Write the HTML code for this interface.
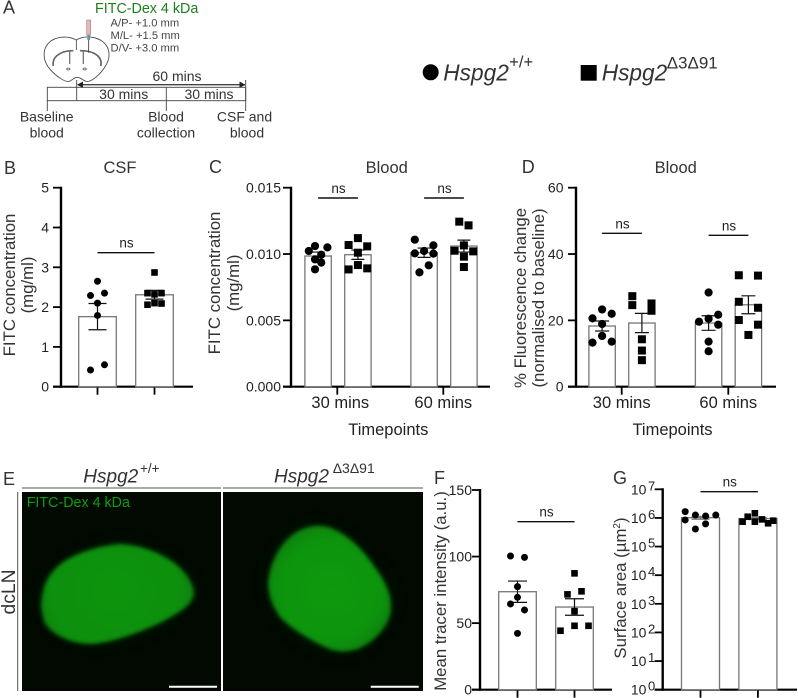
<!DOCTYPE html>
<html lang="en">
<head>
<meta charset="utf-8">
<title>FITC-Dex tracer figure</title>
<style>
html,body{margin:0;padding:0;background:#fff;}
svg{display:block;font-family:"Liberation Sans",Arial,sans-serif;}
</style>
</head>
<body>
<svg id="figure" xmlns="http://www.w3.org/2000/svg" width="798" height="698" viewBox="0 0 798 698">
  <defs>
    <filter id="soft" x="-20%" y="-20%" width="140%" height="140%"><feGaussianBlur stdDeviation="2.2"/></filter>
    <filter id="halo" x="-30%" y="-30%" width="160%" height="160%"><feGaussianBlur stdDeviation="9"/></filter>
    <radialGradient id="greenL" gradientUnits="userSpaceOnUse" cx="115" cy="590" r="85">
      <stop offset="0" stop-color="#0a940c"/><stop offset="0.75" stop-color="#0a900c"/><stop offset="1" stop-color="#0a7c0c"/>
    </radialGradient>
    <radialGradient id="greenR" gradientUnits="userSpaceOnUse" cx="330" cy="590" r="72">
      <stop offset="0" stop-color="#0a9a0c"/><stop offset="0.7" stop-color="#0a940c"/><stop offset="1" stop-color="#0a7c0c"/>
    </radialGradient>
  </defs>
  <rect x="0" y="0" width="798" height="698" fill="#fff"/>

  <g fill="#333" font-size="14">
    <text x="3" y="13.5" font-size="18">A</text>
    <text x="95" y="13" font-size="14.3" fill="#1c7f1c">FITC-Dex 4 kDa</text>
    <text x="110.5" y="26.5" font-size="11.2" fill="#444">A/P- +1.0 mm</text>
    <text x="110.5" y="39" font-size="11.2" fill="#444">M/L- +1.5 mm</text>
    <text x="110.5" y="51.5" font-size="11.2" fill="#444">D/V- +3.0 mm</text>
    <g transform="scale(0.33333)" fill="none" stroke="#444">
      <path stroke-width="2.5" fill="#fff" d="M229 120C205 106 165 108 145 130C125 152 130 185 150 208C168 228 195 248 208 244C218 240 222 232 232 232C242 232 246 240 258 244C272 248 298 226 314 202C332 176 332 148 312 128C290 108 252 106 229 120Z"/>
      <path stroke="#666" stroke-width="5" d="M160 198C155 175 175 152 220 152"/>
      <path stroke="#666" stroke-width="5" d="M302 198C308 175 290 152 240 152"/>
      <path stroke="#777" stroke-width="4" d="M209 152L209 192"/>
      <path stroke="#777" stroke-width="4" d="M250 152L250 192"/>
      <ellipse cx="205" cy="207" rx="5" ry="3" stroke-width="2"/>
      <ellipse cx="254" cy="207" rx="5" ry="3" stroke-width="2"/>
      <path stroke-width="2.5" d="M229 120L229 150"/>
    </g>
    <g transform="scale(0.33333)">
      <rect x="260" y="60" width="12" height="45" fill="#efb4b0" stroke="#777" stroke-width="1.5"/>
      <rect x="262" y="105" width="8" height="15" fill="#5a9ab0"/>
      <path d="M266 120L266 158" stroke="#333" stroke-width="2.5"/>
    </g>
    <g fill="none" stroke="#444" stroke-width="0.9">
      <rect x="47.3" y="87.3" width="198.4" height="13.4"/>
      <path d="M76.7 80V100.7M166.3 87.3V111M47.3 100.7V111M245.7 80V111"/>
      <path d="M78 84.7H245" stroke-width="1.4"/>
      <path d="M77 84.7L83 81.5V87.9Z" fill="#222" stroke="none"/>
      <path d="M245.4 84.7L239.5 81.5V87.9Z" fill="#222" stroke="none"/>
    </g>
    <g text-anchor="middle">
      <text x="177" y="81">60 mins</text>
      <text x="123.7" y="99">30 mins</text>
      <text x="209" y="99">30 mins</text>
      <text x="46.7" y="121.5">Baseline</text>
      <text x="46.7" y="137.5">blood</text>
      <text x="166" y="121.5">Blood</text>
      <text x="166" y="137.5">collection</text>
      <text x="244.5" y="121.5">CSF and</text>
      <text x="247" y="137.5">blood</text>
    </g>
  </g>

  <g fill="#333">
    <circle cx="430.7" cy="72.3" r="8" fill="#000"/>
    <text x="443.3" y="80.7" font-size="22.7" font-style="italic">Hspg2</text>
    <text x="509.3" y="67.5" font-size="16.5">+/+</text>
    <rect x="580.7" y="65" width="16" height="15.7" fill="#000"/>
    <text x="601.7" y="80.7" font-size="22.7" font-style="italic">Hspg2</text>
    <text x="666.7" y="68.5" font-size="17">Δ3Δ91</text>
  </g>

  <g id="charts"></g>

  <g>
    <text x="3" y="485" font-size="18" fill="#333">E</text>
    <text x="83.3" y="482.7" font-size="19" font-style="italic" fill="#333">Hspg2</text>
    <text x="140" y="473" font-size="13.5" fill="#333">+/+</text>
    <text x="274" y="482.7" font-size="19" font-style="italic" fill="#333">Hspg2</text>
    <text x="332.7" y="473" font-size="14" fill="#333">Δ3Δ91</text>
    <path d="M22 488H221M223 488H423" stroke="#555" stroke-width="1"/>
    <path d="M17.7 492V691" stroke="#555" stroke-width="1"/>
    <text transform="translate(15 592) rotate(-90)" text-anchor="middle" font-size="19.3" fill="#333">dcLN</text>
    <rect x="22" y="492" width="199" height="199" fill="#010901"/>
    <rect x="223" y="492" width="200" height="199" fill="#010901"/>
    <svg x="22" y="492" width="199" height="199" viewBox="22 492 199 199">
      <path filter="url(#halo)" fill="#0a4a0c" opacity="0.22" d="M40 607C44 575 66 560 120 543C157 548 183 567 195 590C190 607 160 625 127 637C93 644 63 644 40 607Z"/>
      <path filter="url(#soft)" fill="url(#greenL)" d="M41 607C42 585 48 572 66 560C84 550 100 546 120 544C140 545 160 552 176 564C186 573 194 583 194 594C192 606 180 612 160 623C140 632 115 642 93 644C70 644 52 635 44 622Z"/>
    </svg>
    <svg x="223" y="492" width="200" height="199" viewBox="223 492 200 199">
      <path filter="url(#halo)" fill="#0a4a0c" opacity="0.2" d="M268 583C272 555 295 526 317 526C345 532 375 560 392 593C392 625 362 652 338 652C305 645 272 620 268 583Z"/>
      <path filter="url(#soft)" fill="url(#greenR)" d="M268 583C270 560 282 540 298 531C308 526 318 524 328 527C345 532 362 548 374 566C386 582 392 595 391 610C390 625 375 642 358 649C345 653 335 652 325 647C310 640 290 628 280 617C272 606 268 595 268 583Z"/>
    </svg>
    <text x="26.7" y="507" font-size="14.3" fill="#0aa00c">FITC-Dex 4 kDa</text>
    <path d="M169 686.7H217M370.7 686.7H418.7" stroke="#fff" stroke-width="2"/>
  </g>

<script>
// Panel B: CSF FITC concentration
const bTickValues = [0, 1, 2, 3, 4, 5];
const bTickLabels = ['0', '1', '2', '3', '4', '5'];
const bMeans = [1.76, 2.31];
const bSems = [0.33, 0.11];
const bPointsWildtype = [2.65, 2.29, 2.35, 2.10, 1.79, 0.42, 0.55];
const bSwarmWildtype = [0, -1, 1, 0, 0, -1, 1];
const bPointsMutant = [2.87, 2.35, 2.32, 2.35, 2.06, 2.10, 2.09];
const bSwarmMutant = [0, -1, 0, 1, -1, 0, 1];

// Panel C: Blood FITC concentration
const cTickValues = [0, 0.005, 0.01, 0.015];
const cTickLabels = ['0.000', '0.005', '0.010', '0.015'];
const cCategories = ['30 mins', '60 mins'];
const cMeans = [0.00985, 0.00995, 0.0101, 0.0106];
const cSems = [0.0003, 0.00035, 0.00035, 0.00045];
const cPoints30Wildtype = [0.0106, 0.01023, 0.0105, 0.00995, 0.0096, 0.00935, 0.00885];
const cSwarm30Wildtype = [-1, -3, 3, 1, -1, 1, -1];
const cPoints30Mutant = [0.0112, 0.01068, 0.01058, 0.0101, 0.00917, 0.00884, 0.00892];
const cSwarm30Mutant = [0, -3, 3, 0, 0, -3, 3];
const cPoints60Wildtype = [0.01108, 0.01065, 0.01023, 0.01005, 0.01003, 0.00915, 0.00862];
const cSwarm60Wildtype = [-3, 3, 0, -3, 3, 1.5, -1.5];
const cPoints60Mutant = [0.01244, 0.01216, 0.01065, 0.01025, 0.0102, 0.0098, 0.00902];
const cSwarm60Mutant = [-1.5, 1.5, 0, -3, 3, 0, 0];

// Panel D: Blood % fluorescence change
const dTickValues = [0, 20, 40, 60];
const dTickLabels = ['0', '20', '40', '60'];
const dCategories = ['30 mins', '60 mins'];
const dMeans = [18.3, 19.2, 19.2, 24.7];
const dSems = [1.5, 2.9, 2.2, 2.7];
const dPoints30Wildtype = [23.3, 20.6, 22, 18.9, 15.3, 13.3, 13.6];
const dSwarm30Wildtype = [0, -3, 3, 0, 0, -3, 3];
const dPoints30Mutant = [27.3, 24.6, 25.1, 22.9, 14.3, 10.9, 8];
const dSwarm30Mutant = [-3, -3, 3, 3, 0, 0, 0];
const dPoints60Wildtype = [28.4, 21.7, 20.5, 19.6, 18.7, 13.6, 10.7];
const dSwarm60Wildtype = [0, 3, 0, -3, 3, 0, 0];
const dPoints60Mutant = [33.6, 33.5, 25.6, 23.8, 20.1, 18.7, 15.6];
const dSwarm60Mutant = [-3, 3, -3, 3, -3, 3, 0];

// Panel F: Mean tracer intensity
const fTickValues = [0, 50, 100, 150];
const fTickLabels = ['0', '50', '100', '150'];
const fMeans = [73.6, 62.1];
const fSems = [8, 6.2];
const fPointsWildtype = [100.4, 99.4, 77.4, 69.4, 64.4, 59.9, 42.3];
const fSwarmWildtype = [-1, 1, 0, 0, -1, 1, 0];
const fPointsMutant = [87.4, 71.6, 73.9, 59, 48, 48, 44.3];
const fSwarmMutant = [0, -1, 1, 0, 0, 2, -2];

// Panel G: Surface area (log axis)
const gTickExponents = [0, 1, 2, 3, 4, 5, 6, 7];
const gMeans = [1020000, 950000];
const gSems = [120000, 70000];
const gPointsWildtype = [1660000, 850000, 1260000, 1170000, 1260000, 620000, 410000];
const gSwarmWildtype = [-3, -3, -1, 1, 3, 1, -1];
const gPointsMutant = [1450000, 1100000, 740000, 740000, 890000, 650000, 800000];
const gSwarmMutant = [-0.6, -2, -3, -0.6, 0.8, 2, 3];

const SVG_NS = 'http://www.w3.org/2000/svg';
const root = document.getElementById('charts');

function make(tag, attrs, parent) {
  const node = document.createElementNS(SVG_NS, tag);
  for (const key in attrs) node.setAttribute(key, attrs[key]);
  parent.appendChild(node);
  return node;
}

function drawPanel(cfg) {
  const group = make('g', {}, root);
  
  
  const y = cfg.y;

  const yAxis = make('line', {x1: cfg.axisX, x2: cfg.axisX, y1: cfg.top - 1, y2: cfg.bottom + 1, stroke: '#000', 'stroke-width': 2.4}, group);
  
  
  const xAxis = make('line', {x1: cfg.axisX - 8, x2: cfg.axisEnd, y1: cfg.bottom, y2: cfg.bottom, stroke: '#000', 'stroke-width': 2.2}, group);
  
  

  cfg.tickValues.forEach(function (value, i) {
    const py = y(value);
    const tick = make('line', {x1: cfg.axisX - 8, x2: cfg.axisX, y1: py, y2: py, stroke: '#000', 'stroke-width': 1.8}, group);
    
    
    const label = make('text', {x: cfg.axisX - cfg.labelGap, y: py + 5, 'text-anchor': 'end', 'font-size': 14, fill: '#222'}, group);
    
    
    if (cfg.exponents) {
      const base = make('tspan', {}, label);
      base.textContent = '10';
      const power = make('tspan', {dy: -4, 'font-size': 13, dx: 1.5}, label);
      power.textContent = String(cfg.exponents[i]);
    } else {
      label.textContent = cfg.tickLabels[i];
    }
  });

  cfg.xTicks.forEach(function (px, i) {
    const tick = make('line', {x1: px, x2: px, y1: cfg.bottom, y2: cfg.bottom + 8, stroke: '#000', 'stroke-width': 1.8}, group);
    
    
    if (cfg.categories) {
      const label = make('text', {x: px + cfg.catShift[i], y: 408, 'text-anchor': 'middle', 'font-size': 16.5, fill: '#222'}, group);
      
      
      label.textContent = cfg.categories[i];
    }
  });

  cfg.means.forEach(function (mean, i) {
    const cx = cfg.center(i);
    const bar = make('rect', {x: cx - cfg.barHalf, y: y(mean), width: cfg.barHalf * 2, height: cfg.bottom - y(mean), fill: '#fff', stroke: '#777', 'stroke-width': 1.3}, group);
    
    
  });

  cfg.means.forEach(function (mean, i) {
    const cx = cfg.center(i);
    const sem = cfg.sems[i];
    const hi = y(mean + sem);
    const lo = y(mean - sem);
    const err = make('path', {d: 'M' + (cx - cfg.cap) + ' ' + hi + 'H' + (cx + cfg.cap) + 'M' + cx + ' ' + hi + 'V' + lo + 'M' + (cx - cfg.cap) + ' ' + lo + 'H' + (cx + cfg.cap), fill: 'none', stroke: cfg.errColor || '#111', 'stroke-width': 1.2}, group);
    
    
  });

  cfg.points.forEach(function (series, i) {
    const cx = cfg.center(i);
    series.forEach(function (value, k) {
      const px = cx + cfg.swarm[i][k] * cfg.swarmStep;
      const py = y(value);
      if (i % 2 === 0) {
        const dot = make('circle', {cx: px, cy: py, r: cfg.radius, fill: '#000'}, group);
        
        
      } else {
        const square = make('rect', {x: px - cfg.side / 2, y: py - cfg.side / 2, width: cfg.side, height: cfg.side, fill: '#000'}, group);
        
        
      }
    });
  });

  cfg.brackets.forEach(function (b) {
    const x1 = cfg.center(b.from);
    const x2 = cfg.center(b.to);
    const rule = make('line', {x1: x1, x2: x2, y1: b.y, y2: b.y, stroke: '#111', 'stroke-width': 1.4}, group);
    
    
    const ns = make('text', {x: (x1 + x2) / 2 + 0.5, y: b.y - 5, 'text-anchor': 'middle', 'font-size': 13.5, fill: '#222'}, group);
    
    
    ns.textContent = 'ns';
  });

  const letter = make('text', {x: cfg.letter[0], y: cfg.letter[1], 'font-size': 18, fill: '#333'}, group);
  
  
  letter.textContent = cfg.letterText;

  if (cfg.title) {
    const title = make('text', {x: cfg.title[1], y: 173, 'text-anchor': 'middle', 'font-size': 16.5, fill: '#333'}, group);
    
    
    title.textContent = cfg.title[0];
  }

  if (cfg.xTitle) {
    const xt = make('text', {x: cfg.xTitle, y: 435, 'text-anchor': 'middle', 'font-size': 16.5, fill: '#222'}, group);
    
    
    xt.textContent = 'Timepoints';
  }

  cfg.yTitles.forEach(function (line) {
    const yt = make('text', {transform: 'translate(' + line[1] + ' ' + cfg.yTitleCenter + ') rotate(-90)', 'text-anchor': 'middle', 'font-size': 16.8, fill: '#333'}, group);
    
    
    yt.textContent = line[0];
    if (line[2]) {
      const sup = make('tspan', {dy: -6, 'font-size': 10}, yt);
      sup.textContent = line[2];
      const close = make('tspan', {dy: 6}, yt);
      close.textContent = ')';
    }
  });
}

function linear(min, max, top, bottom) {
  return function (v) { return bottom - (v - min) / (max - min) * (bottom - top); };
}
function logScale(minExp, maxExp, top, bottom) {
  return function (v) { return bottom - (Math.log10(v) - minExp) / (maxExp - minExp) * (bottom - top); };
}

const pairCenters = function (first, step) { return function (i) { return first + i * step; }; };
const groupedCenters = function (first, spread, gap) {
  return function (i) {
    const t = Math.floor(i / 2);
    return first + t * gap + (i % 2 === 0 ? -spread : spread);
  };
};

const centerB = pairCenters(97.5, 57);
drawPanel({
  name: 'panel-b-csf-chart', letterText: 'B', letter: [4, 174], title: ['CSF', 120],
  axisX: 61, axisEnd: 193, top: 187.7, bottom: 386.7, y: linear(0, 5, 187.7, 386.7),
  tickValues: bTickValues, tickLabels: bTickLabels, labelGap: 12,
  xTicks: [centerB(0), centerB(1)], center: centerB, barHalf: 18.8, cap: 9,
  means: bMeans, sems: bSems, points: [bPointsWildtype, bPointsMutant], swarm: [bSwarmWildtype, bSwarmMutant],
  swarmStep: 7, radius: 3.5, side: 6.6, brackets: [{from: 0, to: 1, y: 252.7}],
  yTitles: [['FITC concentration', 15], ['(mg/ml)', 33]], yTitleCenter: 285
});

const centerC = groupedCenters(338, 19.9, 106);
drawPanel({
  name: 'panel-c-blood-concentration-chart', letterText: 'C', letter: [209, 173], title: ['Blood', 386.7],
  axisX: 291, axisEnd: 490, top: 187.7, bottom: 386.7, y: linear(0, 0.015, 187.7, 386.7),
  tickValues: cTickValues, tickLabels: cTickLabels, labelGap: 10,
  xTicks: [337.3, 443.3], categories: cCategories, catShift: [3, 0], center: centerC, barHalf: 13.2, cap: 6.5,
  means: cMeans, sems: cSems,
  points: [cPoints30Wildtype, cPoints30Mutant, cPoints60Wildtype, cPoints60Mutant],
  swarm: [cSwarm30Wildtype, cSwarm30Mutant, cSwarm60Wildtype, cSwarm60Mutant],
  swarmStep: 3.1, radius: 4.1, side: 8, brackets: [{from: 0, to: 1, y: 198}, {from: 2, to: 3, y: 198}],
  xTitle: 388.3, yTitles: [['FITC concentration', 220], ['(mg/ml)', 239]], yTitleCenter: 283
});

const centerD = groupedCenters(622, 19.9, 106.5);
drawPanel({
  name: 'panel-d-blood-fluorescence-chart', letterText: 'D', letter: [521.7, 173], title: ['Blood', 675.7],
  axisX: 576, axisEnd: 776, top: 187.7, bottom: 386.7, y: linear(0, 60, 187.7, 386.7),
  tickValues: dTickValues, tickLabels: dTickLabels, labelGap: 12.5,
  xTicks: [621.7, 728.3], categories: dCategories, catShift: [0, 0], center: centerD, barHalf: 13.2, cap: 7,
  means: dMeans, sems: dSems,
  points: [dPoints30Wildtype, dPoints30Mutant, dPoints60Wildtype, dPoints60Mutant],
  swarm: [dSwarm30Wildtype, dSwarm30Mutant, dSwarm60Wildtype, dSwarm60Mutant],
  swarmStep: 3.2, radius: 4.1, side: 8, brackets: [{from: 0, to: 1, y: 233.3}, {from: 2, to: 3, y: 235.3}],
  xTitle: 672.5, yTitles: [['% Fluorescence change', 526], ['(normalised to baseline)', 544]], yTitleCenter: 298
});

const centerF = pairCenters(517.5, 57);
drawPanel({
  name: 'panel-f-tracer-intensity-chart', letterText: 'F', letter: [434, 484],
  axisX: 480, axisEnd: 612, top: 490, bottom: 689.7, y: linear(0, 150, 490, 689.7),
  tickValues: fTickValues, tickLabels: fTickLabels, labelGap: 8,
  xTicks: [centerF(0), centerF(1)], center: centerF, barHalf: 18.8, cap: 9.5,
  means: fMeans, sems: fSems, points: [fPointsWildtype, fPointsMutant], swarm: [fSwarmWildtype, fSwarmMutant],
  swarmStep: 7, radius: 3.5, side: 6.6, brackets: [{from: 0, to: 1, y: 521.7}],
  yTitles: [['Mean tracer intensity (a.u.)', 446]], yTitleCenter: 591
});

const centerG = pairCenters(700.5, 57.4);
drawPanel({
  name: 'panel-g-surface-area-chart', letterText: 'G', letter: [613, 484],
  axisX: 662.7, axisEnd: 797, top: 489.3, bottom: 689.7, y: logScale(0, 7, 489.3, 689.7),
  tickValues: gTickExponents.map(function (e) { return Math.pow(10, e); }), exponents: gTickExponents, labelGap: 7.5,
  xTicks: [centerG(0), centerG(1)], center: centerG, barHalf: 19, cap: 9, errColor: '#777',
  means: gMeans, sems: gSems, points: [gPointsWildtype, gPointsMutant], swarm: [gSwarmWildtype, gSwarmMutant],
  swarmStep: 5.1, radius: 3.5, side: 6.6, brackets: [{from: 0, to: 1, y: 491.7}],
  yTitles: [['Surface area (µm', 626, '2']], yTitleCenter: 588
});
</script>
</svg>
</body>
</html>
